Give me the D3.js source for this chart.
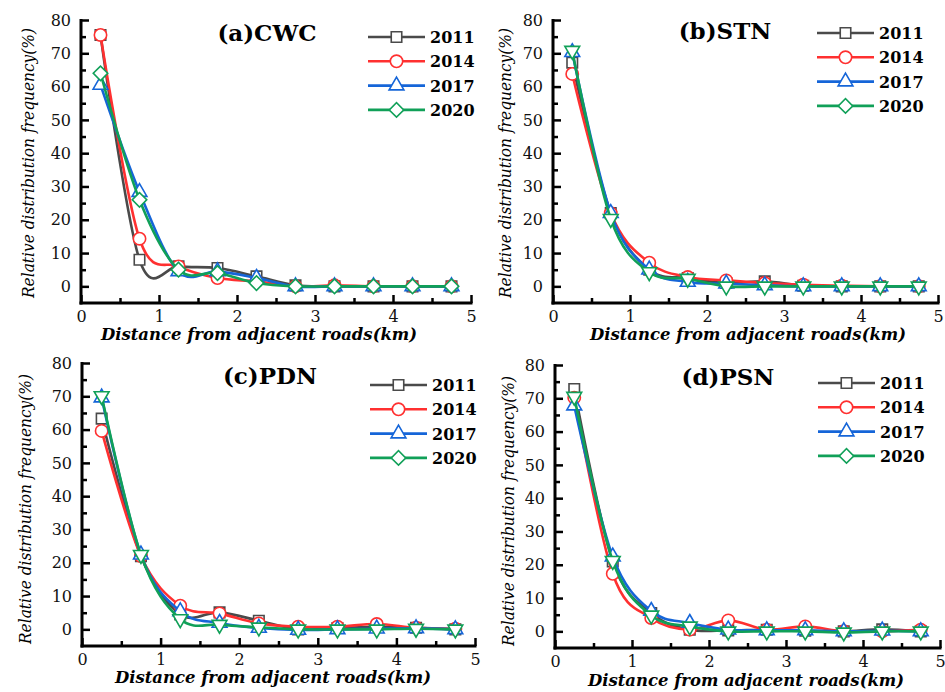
<!DOCTYPE html>
<html>
<head>
<meta charset="utf-8">
<script src="https://cdn.jsdelivr.net/npm/d3@7"></script>
<style>
  body { margin: 0; background: #fff; }
  svg { display: block; }
  .tick text { font-family: "DejaVu Serif", serif; font-size: 16px; fill: #111; }
</style>
</head>
<body>
<svg id="chart" width="945" height="692"></svg>
<script>
// distances (km), bin centres
const distance = [0.25, 0.75, 1.25, 1.75, 2.25, 2.75, 3.25, 3.75, 4.25, 4.75];
const years = ["2011", "2014", "2017", "2020"];
const xTicks = [0, 1, 2, 3, 4, 5];
const yTicks = [0, 10, 20, 30, 40, 50, 60, 70, 80];

// (a) CWC
const cwc2011 = [75.5, 8.0, 6.0, 5.5, 3.0, 0.3, 0.0, 0.0, 0.0, 0.0];
const cwc2014 = [75.5, 14.3, 6.0, 2.5, 1.5, 0.0, 0.3, 0.0, 0.0, 0.0];
const cwc2017 = [60.5, 28.3, 4.5, 4.5, 2.5, 0.0, 0.0, 0.0, 0.0, 0.0];
const cwc2020 = [64.0, 26.0, 5.0, 4.0, 1.0, 0.0, 0.0, 0.0, 0.0, 0.0];
// (b) STN
const stn2011 = [67.2, 22.0, 5.0, 2.5, 1.0, 1.5, 0.2, 0.0, 0.0, 0.0];
const stn2014 = [63.8, 22.0, 7.1, 2.8, 1.8, 1.0, 0.5, 0.2, 0.0, 0.0];
const stn2017 = [70.3, 22.0, 5.0, 1.3, 0.8, 0.3, 0.0, 0.0, 0.0, 0.0];
const stn2020 = [70.8, 20.3, 4.3, 2.3, 0.0, 0.0, 0.0, 0.0, 0.0, 0.0];
// (c) PDN
const pdn2011 = [63.3, 22.0, 4.5, 5.1, 2.6, 0.0, 0.4, 0.8, 0.5, 0.0];
const pdn2014 = [59.6, 22.0, 7.1, 4.8, 1.8, 0.8, 0.8, 1.6, 0.5, 0.2];
const pdn2017 = [69.6, 22.4, 5.4, 1.9, 0.4, -0.2, 0.0, 0.2, 0.3, 0.0];
const pdn2020 = [70.1, 22.4, 3.1, 1.4, 0.6, 0.0, 0.0, 0.0, 0.2, 0.0];
// (d) PSN
const psn2011 = [72.8, 21.0, 5.5, 0.5, 0.3, 0.5, 0.2, 0.0, 0.6, 0.0];
const psn2014 = [70.2, 17.3, 4.0, 0.5, 3.3, 0.5, 1.5, 0.0, 0.0, 0.5];
const psn2017 = [67.8, 22.4, 6.1, 2.5, 0.5, 0.3, 0.3, 0.0, 0.2, 0.0];
const psn2020 = [70.5, 21.2, 4.8, 1.5, 0.0, 0.0, 0.0, -0.3, 0.0, 0.0];

const colors = ["#4a4a4a", "#ff3030", "#1565d8", "#10a058"];

const panels = [
  { title: "(a)CWC", series: [cwc2011, cwc2014, cwc2017, cwc2020], down: false,
    x0: 81, x1: 471, top: 20, bottom: 303, titleX: 267, titleY: 41, legX: 368, legY: 37,
    yLabX: 28, yLabY: 163, xLabX: 259, xLabY: 340 },
  { title: "(b)STN", series: [stn2011, stn2014, stn2017, stn2020], down: true,
    x0: 553, x1: 938, top: 20, bottom: 303, titleX: 725, titleY: 39, legX: 817, legY: 33,
    yLabX: 505, yLabY: 163, xLabX: 748, xLabY: 340 },
  { title: "(c)PDN", series: [pdn2011, pdn2014, pdn2017, pdn2020], down: true,
    x0: 82, x1: 475, top: 363, bottom: 646, titleX: 270, titleY: 384, legX: 370, legY: 385,
    yLabX: 25, yLabY: 509, xLabX: 273, xLabY: 683 },
  { title: "(d)PSN", series: [psn2011, psn2014, psn2017, psn2020], down: true,
    x0: 555, x1: 940, top: 365, bottom: 648, titleX: 728, titleY: 385, legX: 818, legY: 383,
    yLabX: 508, yLabY: 511, xLabX: 746, xLabY: 686 }
];

const svg = d3.select("#chart");

// marker shapes: square, circle, up triangle, diamond / down triangle
function marker(g, i, down) {
  if (i === 0) return g.append("path").attr("d", d3.symbol(d3.symbolSquare, 110)());
  if (i === 1) return g.append("path").attr("d", d3.symbol(d3.symbolCircle, 120)());
  if (i === 2) return g.append("path").attr("d", d3.symbol(d3.symbolTriangle, 95)());
  if (down) return g.append("path").attr("d", d3.symbol(d3.symbolTriangle, 95)()).attr("transform", "rotate(180)");
  return g.append("path").attr("d", d3.symbol(d3.symbolSquare, 105)()).attr("transform", "rotate(45)");
}

panels.forEach(p => {
  const x = d3.scaleLinear().domain([0, 5]).range([p.x0, p.x1]);
  const y = d3.scaleLinear().domain([-5, 80]).range([p.bottom, p.top]);
  const g = svg.append("g");

  // minor ticks
  g.append("g").attr("transform", `translate(${p.x0},0)`)
    .call(d3.axisLeft(y).tickValues(d3.range(5, 80, 10)).tickSize(-5).tickSizeOuter(0).tickFormat(""))
    .call(a => a.select(".domain").remove())
    .selectAll("line").attr("stroke", "#000").attr("stroke-width", 2.5);
  g.append("g").attr("transform", `translate(0,${p.bottom})`)
    .call(d3.axisBottom(x).tickValues(d3.range(0.5, 5, 1)).tickSize(-5).tickSizeOuter(0).tickFormat(""))
    .call(a => a.select(".domain").remove())
    .selectAll("line").attr("stroke", "#000").attr("stroke-width", 2.5);

  // major axes
  const ya = g.append("g").attr("transform", `translate(${p.x0},0)`)
    .call(d3.axisLeft(y).tickValues(yTicks).tickSize(-8).tickSizeOuter(0).tickPadding(10));
  const xa = g.append("g").attr("transform", `translate(0,${p.bottom})`)
    .call(d3.axisBottom(x).tickValues(xTicks).tickFormat(d3.format("d")).tickSize(-8).tickSizeOuter(0).tickPadding(8));
  [ya, xa].forEach(a => {
    a.select(".domain").attr("stroke", "#000").attr("stroke-width", 3);
    a.selectAll(".tick line").attr("stroke", "#000").attr("stroke-width", 2.5);
  });
  ya.select(".domain").attr("d", `M0,${p.bottom + 1.5}V${p.top - 1}`);
  xa.select(".domain").attr("d", `M${p.x0 - 1.5},0H${p.x1 + 1.5}`);

  // axis titles
  g.append("text")
    .attr("transform", `translate(${p.yLabX + 6},${p.yLabY}) rotate(-90)`)
    .attr("text-anchor", "middle")
    .attr("textLength", 270).attr("lengthAdjust", "spacingAndGlyphs")
    .style("font-family", "DejaVu Serif, serif").style("font-style", "italic").style("font-size", "17px")
    .text("Relative distribution frequency(%)");
  g.append("text")
    .attr("x", p.xLabX).attr("y", p.xLabY)
    .attr("text-anchor", "middle")
    .attr("textLength", 316).attr("lengthAdjust", "spacingAndGlyphs")
    .style("font-family", "DejaVu Serif, serif").style("font-style", "italic").style("font-weight", "bold").style("font-size", "16.5px")
    .text("Distance from adjacent roads(km)");

  // panel title
  g.append("text").attr("x", p.titleX).attr("y", p.titleY).attr("text-anchor", "middle")
    .style("font-family", "DejaVu Serif, serif").style("font-weight", "bold").style("font-size", "23px")
    .text(p.title);

  // series
  const line = d3.line().x((d, i) => x(distance[i])).y(d => y(d)).curve(d3.curveCatmullRom.alpha(0));
  p.series.forEach((vals, si) => {
    const sg = g.append("g");
    sg.append("path").datum(vals).attr("d", line)
      .attr("fill", "none").attr("stroke", colors[si]).attr("stroke-width", 2.6);
    vals.forEach((v, i) => {
      const mg = sg.append("g").attr("transform", `translate(${x(distance[i])},${y(v)})`);
      marker(mg, si, p.down).attr("fill", "#fff").attr("stroke", colors[si]).attr("stroke-width", 1.6);
    });
  });

  // legend
  years.forEach((yr, si) => {
    const ly = p.legY + si * 24.3;
    const lg = g.append("g");
    lg.append("line").attr("x1", p.legX).attr("x2", p.legX + 57).attr("y1", ly).attr("y2", ly)
      .attr("stroke", colors[si]).attr("stroke-width", 2.6);
    const mg = lg.append("g").attr("transform", `translate(${p.legX + 28.5},${ly})`);
    marker(mg, si, false).attr("fill", "#fff").attr("stroke", colors[si]).attr("stroke-width", 1.6);
    lg.append("text").attr("x", p.legX + 62).attr("y", ly + 6)
      .style("font-family", "DejaVu Serif, serif").style("font-weight", "bold").style("font-size", "16px")
      .text(yr);
  });
});
</script>
</body>
</html>
